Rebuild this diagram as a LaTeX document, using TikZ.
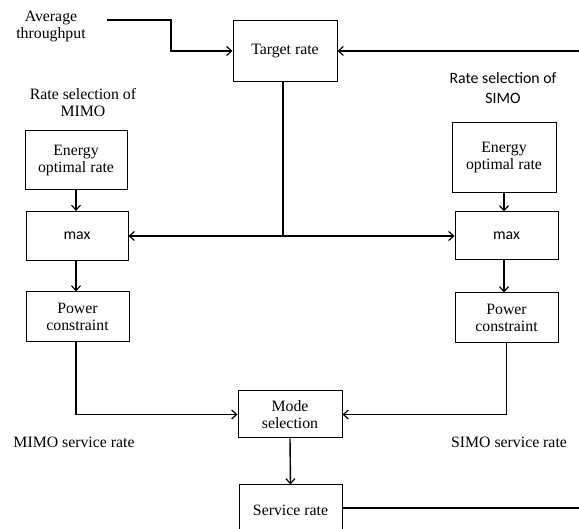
\documentclass[tikz,border=0pt]{standalone}
\usepackage{fontspec}
\setmainfont{Liberation Serif}
\newfontfamily\sansf{Carlito}
\usetikzlibrary{arrows.meta}
\tikzset{
  blk/.style={draw, line width=1pt, align=center, inner sep=0pt},
  conn/.style={line width=1.4pt, -{Straight Barb[length=5pt,width=9pt,line width=1.2pt]}},
  plain/.style={line width=1.1pt},
  lbl/.style={align=center, inner sep=0pt}
}
\begin{document}
\begin{tikzpicture}[x=1pt,y=-1pt, font=\fontsize{15.8}{17}\selectfont]
\useasboundingbox (0,0) rectangle (579,529);
\clip (0,0) rectangle (579,529);

\node[blk, minimum width=104pt, minimum height=61pt] (target) at (285,51) {Target rate};
\node[blk, minimum width=102pt, minimum height=59pt] (e1) at (76,160.5) {Energy\\optimal rate};
\node[blk, minimum width=102pt, minimum height=49pt] (m1) at (77,236) {\sansf max};
\node[blk, minimum width=103pt, minimum height=50pt] (p1) at (77.5,317) {Power\\constraint};
\node[blk, minimum width=104pt, minimum height=70pt] (e2) at (504,158) {Energy\\optimal rate};
\node[blk, minimum width=103pt, minimum height=48pt] (m2) at (506.5,236) {\sansf max};
\node[blk, minimum width=103pt, minimum height=50pt] (p2) at (506.5,318) {Power\\constraint};
\node[blk, minimum width=104pt, minimum height=47pt] (mode) at (290,414.5) {Mode\\selection};
\node[blk, minimum width=103pt, minimum height=50pt] (serv) at (290.5,510) {Service rate};

\node[lbl] (avg) at (51,26) {Average\\throughput};
\node[lbl] (rsm) at (83,103) {Rate selection of\\MIMO};
\node[lbl, font=\sansf\fontsize{15.8}{20}\selectfont] (rss) at (503,88) {Rate selection of\\SIMO};
\node[lbl] (msr) at (74,442) {MIMO service rate};
\node[lbl] (ssr) at (509,442) {SIMO service rate};

\coordinate (avgend) at (107,20);
\coordinate (rin) at (579,51);
\coordinate (sout) at (579,508);
\coordinate (split) at (283,236);

\draw[conn] (avgend) -- (171,20) |- (target.west);
\draw[conn] (rin) -- (target.east);
\draw[plain] (target.south -| split) -- (split);
\draw[conn] (split) -- (m1.east);
\draw[conn] (split) -- (m2.west);
\draw[conn] (e1.south) -- (m1.north -| e1.south);
\draw[conn] (m1.south -| e1.south) -- (p1.north -| e1.south);
\draw[conn] (e2.south) -- (m2.north -| e2.south);
\draw[conn] (m2.south -| e2.south) -- (p2.north -| e2.south);
\draw[conn] (p1.south -| e1.south) |- (mode.west);
\draw[conn] (p2.south) |- (mode.east);
\draw[conn] (mode.south) -- (serv.north);
\draw[plain] (serv.east |- sout) -- (sout);
\end{tikzpicture}
\end{document}
